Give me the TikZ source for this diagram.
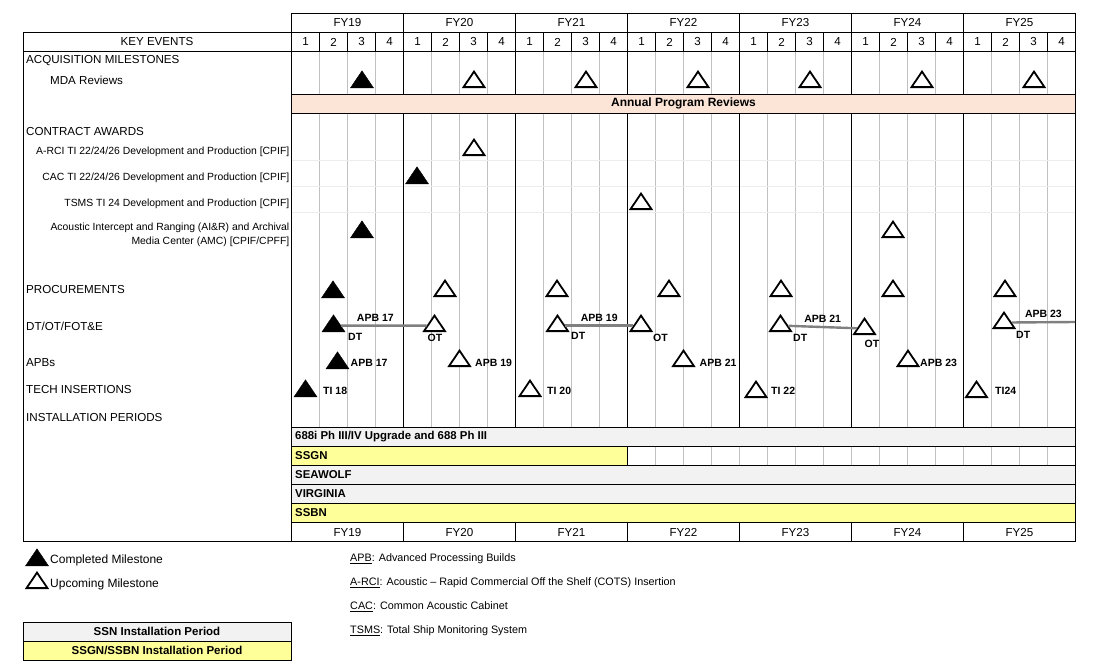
\documentclass[tikz,border=0pt]{standalone}
\usepackage{fontspec}
\setmainfont{Liberation Sans}
\usetikzlibrary{shapes.geometric,calc}

\definecolor{peach}{RGB}{252,228,214}
\definecolor{ssngray}{RGB}{242,242,242}
\definecolor{ssgnyel}{RGB}{255,255,153}
\definecolor{qgray}{RGB}{192,192,192}
\definecolor{apbgray}{RGB}{128,128,128}
\newcommand\fsz[1]{\fontsize{#1}{#1}\selectfont}

\begin{document}
\begin{tikzpicture}[x=1pt,y=-1pt,
  ms/.style={isosceles triangle,isosceles triangle apex angle=68,shape border rotate=90,inner sep=0,anchor=lower side},
  msdone/.style={ms,minimum size=17,fill=black,draw=black,line width=.4},
  msopen/.style={ms,minimum size=15.5,fill=white,draw=black,line width=1.8},
  mslbl/.style={font=\bfseries\fsz{10.5},inner sep=0},
  evtlbl/.style={font=\fsz{11.6},anchor=west,inner sep=0},
  awdlbl/.style={font=\fsz{10.4},anchor=east,inner sep=0,align=right},
  perlbl/.style={font=\bfseries\fsz{11.4},anchor=west,inner sep=0},
  hdlbl/.style={font=\fsz{11.6},inner sep=0},
  keylbl/.style={font=\fsz{10.8},anchor=west,inner sep=0},
  qline/.style={draw=qgray,line width=1},
  bline/.style={draw=black,line width=1},
  apbline/.style={draw=apbgray,line width=2.4}]
  \useasboundingbox (0,0) rectangle (1106,672);

  \foreach \k in {1,...,27} \draw[qline] (291.5+28*\k,51.5) -- (291.5+28*\k,427);
  \foreach \k in {1,...,15} \draw[qline] (627.5+28*\k,446.5) -- (627.5+28*\k,465.5);
  \foreach \h in {160.5,186.5,212.5} \draw[draw=black!7,line width=1] (291.5,\h) -- (1075.5,\h);
  \fill[peach] (291.5,94) rectangle (1075.5,113);
  \fill[ssngray] (291.5,427) rectangle (1075.5,446.5);
  \fill[ssgnyel] (291.5,446.5) rectangle (627.5,465.5);
  \fill[ssngray] (291.5,465.5) rectangle (1075.5,503.5);
  \fill[ssgnyel] (291.5,503.5) rectangle (1075.5,522.5);

  \foreach \k in {1,...,6}{
    \draw[bline] (291.5+112*\k,13) -- (291.5+112*\k,94);
    \draw[bline] (291.5+112*\k,113) -- (291.5+112*\k,427);
    \draw[bline] (291.5+112*\k,522.5) -- (291.5+112*\k,541);}
  \foreach \k in {1,...,27} \draw[bline] (291.5+28*\k,32) -- (291.5+28*\k,51.5);
  \foreach \h in {13,94,113,427,446.5,465.5,484.5,503.5,522.5} \draw[bline] (291.5,\h) -- (1075.5,\h);
  \draw[bline] (23,32) -- (1075.5,32);
  \draw[bline] (23,51.5) -- (1075.5,51.5);
  \draw[bline] (23,32) rectangle (1075.5,541);
  \draw[bline] (291.5,13) -- (291.5,541);
  \draw[bline] (1075.5,13) -- (1075.5,32);
  \draw[bline] (627.5,446.5) -- (627.5,465.5);

  \foreach \yr [count=\i from 0] in {19,...,25}{
    \node[hdlbl] (fyt\yr) at (347.5+112*\i,22.5) {FY\yr};
    \node[hdlbl] (fyb\yr) at (347.5+112*\i,532) {FY\yr};
    \foreach \q in {1,...,4}
      \node[hdlbl] (q\yr\q) at (277.5+112*\i+28*\q,42) {\q};}
  \node[hdlbl] (keyev) at (157,42) {KEY EVENTS};
  \node[font=\bfseries\fsz{12},inner sep=0] (apr) at (683.5,103.5) {Annual Program Reviews};

  \node[evtlbl] (acq) at (26,61) {ACQUISITION MILESTONES};
  \node[evtlbl] (mda) at (50,80) {MDA Reviews};
  \node[evtlbl] (awd) at (26,132) {CONTRACT AWARDS};
  \node[awdlbl] (arci) at (289.5,152) {A-RCI TI 22/24/26 Development and Production [CPIF]};
  \node[awdlbl] (cac) at (289.5,178) {CAC TI 22/24/26 Development and Production [CPIF]};
  \node[awdlbl] (tsms) at (289.5,204) {TSMS TI 24 Development and Production [CPIF]};
  \node[awdlbl,font=\fontsize{10.4}{13.6}\selectfont] (air) at (289.5,235)
    {Acoustic Intercept and Ranging (AI\&R) and Archival\\Media Center (AMC) [CPIF/CPFF]};
  \node[evtlbl] (proc) at (26,289.5) {PROCUREMENTS};
  \node[evtlbl] (dtot) at (26,326) {DT/OT/FOT\&E};
  \node[evtlbl] (apbs) at (26,363) {APBs};
  \node[evtlbl] (tech) at (26,390) {TECH INSERTIONS};
  \node[evtlbl] (inst) at (26,418) {INSTALLATION PERIODS};

  \node[perlbl] (p688) at (295,437) {688i Ph III/IV Upgrade and 688 Ph III};
  \node[perlbl] (pssgn) at (295,456) {SSGN};
  \node[perlbl] (psea) at (295,475) {SEAWOLF};
  \node[perlbl] (pvir) at (295,494) {VIRGINIA};
  \node[perlbl] (pssbn) at (295,513) {SSBN};

  \node[msdone] (mda19) at (362,88) {};
  \foreach \yr [count=\i] in {20,...,25} \node[msopen] (mda\yr) at (362+112*\i,88) {};
  \node[msopen] (arci20) at (474,156) {};
  \node[msdone] (cac20) at (417,184) {};
  \node[msopen] (tsms22) at (641,210) {};
  \node[msdone] (air19) at (362,238) {};
  \node[msopen] (air24) at (893,238) {};
  \node[msdone] (proc19) at (333,298) {};
  \foreach \yr [count=\i] in {20,...,25} \node[msopen] (proc\yr) at (333+112*\i,297) {};

  \node[msdone] (dt19) at (333.5,332) {};
  \node[msopen] (ot20) at (434.5,332) {};
  \node[msopen] (dt21) at (557.5,332) {};
  \node[msopen] (ot22) at (641,332) {};
  \node[msopen] (dt23) at (780.5,332) {};
  \node[msopen] (ot24) at (864.5,335) {};
  \node[msopen] (dt25) at (1004,329) {};
  \coordinate (apbend) at (1075,322);
  \draw[apbline] (dt19) -- node[mslbl,above=3pt,pos=.4] (apb17t) {APB 17} (ot20);
  \draw[apbline] (dt21) -- node[mslbl,above=3pt] (apb19t) {APB 19} (ot22);
  \draw[apbline] (dt23) -- node[mslbl,above=3pt] (apb21t) {APB 21} (ot24);
  \draw[apbline] (dt25) -- node[mslbl,above=3pt] (apb23t) {APB 23} (apbend);
  \node[mslbl,anchor=west] (dt19t) at (348,337) {DT};
  \node[mslbl] (ot20t) at (435,337.5) {OT};
  \node[mslbl,anchor=west] (dt21t) at (571,336) {DT};
  \node[mslbl,anchor=west] (ot22t) at (653,338) {OT};
  \node[mslbl,anchor=west] (dt23t) at (793,338) {DT};
  \node[mslbl] (ot24t) at (872,344) {OT};
  \node[mslbl,anchor=west] (dt25t) at (1016,335) {DT};

  \node[msdone] (apb17) at (337.5,369) {};
  \node[msopen] (apb19) at (459.5,367) {};
  \node[msopen] (apb21) at (683.5,367) {};
  \node[msopen] (apb23) at (908,367) {};
  \node[mslbl,anchor=west] (apb17l) at (350.5,363) {APB 17};
  \node[mslbl,anchor=west] (apb19l) at (475,363) {APB 19};
  \node[mslbl,anchor=west] (apb21l) at (699.5,363) {APB 21};
  \node[mslbl,anchor=west] (apb23l) at (920,363) {APB 23};

  \node[msdone] (ti18) at (305.5,397) {};
  \node[msopen] (ti20) at (530,397) {};
  \node[msopen] (ti22) at (756,398) {};
  \node[msopen] (ti24) at (976.5,398) {};
  \node[mslbl,anchor=west] (ti18l) at (323,391) {TI 18};
  \node[mslbl,anchor=west] (ti20l) at (547,391) {TI 20};
  \node[mslbl,anchor=west] (ti22l) at (771,391) {TI 22};
  \node[mslbl,anchor=west] (ti24l) at (995,391) {TI24};

  \node[msdone] (lgdone) at (37,566) {};
  \node[evtlbl,font=\fsz{12}] (lgdonet) at (50,560) {Completed Milestone};
  \node[msopen] (lgopen) at (37,589) {};
  \node[evtlbl,font=\fsz{12}] (lgopent) at (50,584) {Upcoming Milestone};
  \filldraw[fill=ssngray,bline] (23,622) rectangle (291.5,641);
  \filldraw[fill=ssgnyel,bline] (23,641) rectangle (291.5,660);
  \node[font=\bfseries\fsz{11.5},inner sep=0] (lgssn) at (157,631.5) {SSN Installation Period};
  \node[font=\bfseries\fsz{11.5},inner sep=0] (lgssgn) at (157,650.5) {SSGN/SSBN Installation Period};
  \node[keylbl] (kapb) at (350,559) {\underline{APB}: Advanced Processing Builds};
  \node[keylbl] (karci) at (350,583) {\underline{A-RCI}: Acoustic – Rapid Commercial Off the Shelf (COTS) Insertion};
  \node[keylbl] (kcac) at (350,607) {\underline{CAC}: Common Acoustic Cabinet};
  \node[keylbl] (ktsms) at (350,631) {\underline{TSMS}: Total Ship Monitoring System};
\end{tikzpicture}
\end{document}
